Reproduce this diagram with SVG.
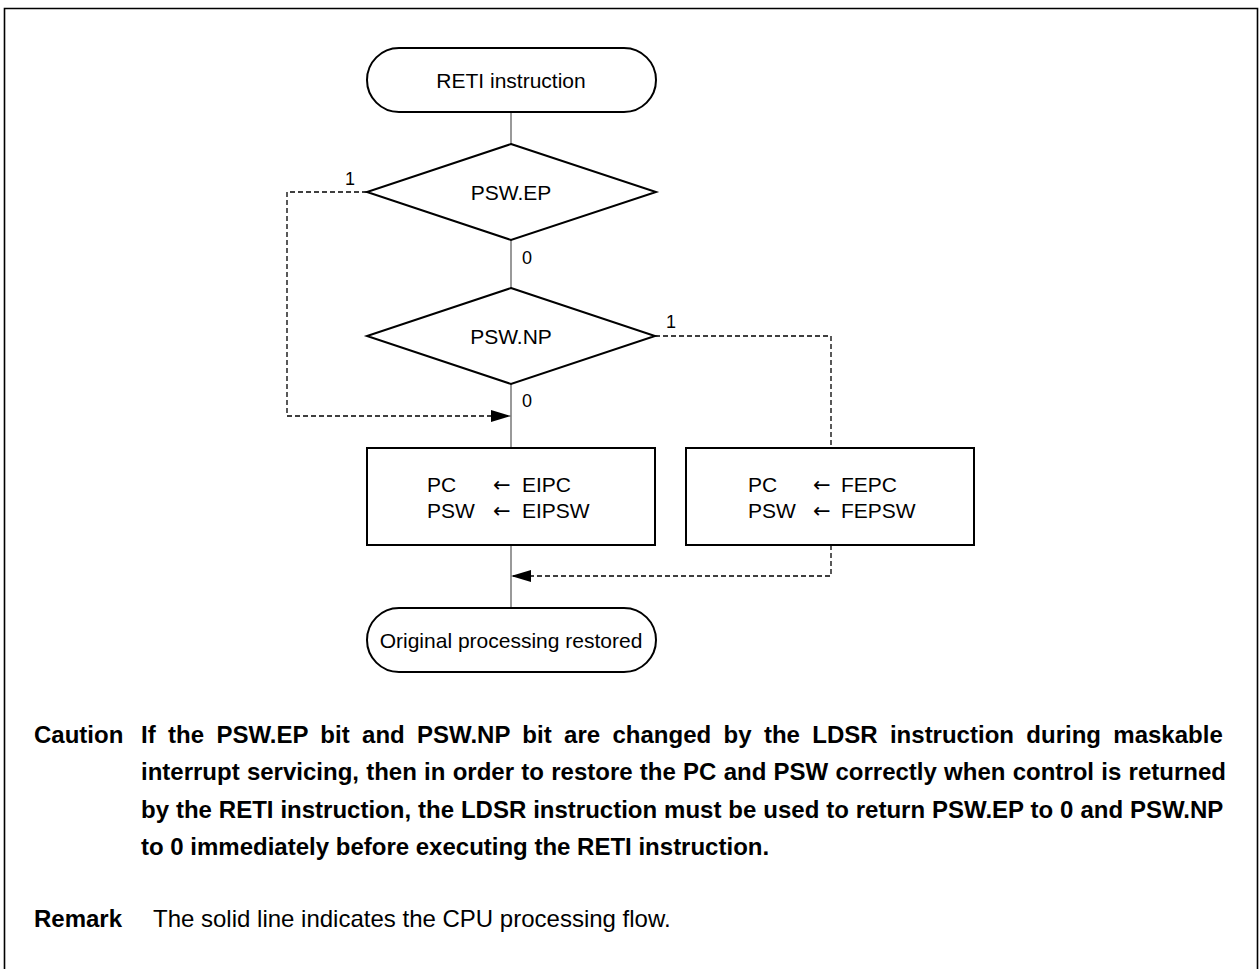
<svg xmlns="http://www.w3.org/2000/svg" width="1259" height="969" viewBox="0 0 1259 969">
<style>
.shape{fill:#fff;stroke:#000;stroke-width:2}
.flow{fill:none;stroke:#555;stroke-width:1.2}
.dash{fill:none;stroke:#000;stroke-width:1.3;stroke-dasharray:5 3}
.t{font-family:"Liberation Sans",Arial,sans-serif;font-size:21px;fill:#000}
.ar{font-family:"DejaVu Sans",sans-serif;font-size:21px;fill:#000}
.lbl{font-family:"Liberation Sans",Arial,sans-serif;font-size:18px;fill:#000}
.b{font-family:"Liberation Sans",Arial,sans-serif;font-size:24px;font-weight:bold;fill:#000}
.r{font-family:"Liberation Sans",Arial,sans-serif;font-size:24px;fill:#000}
</style>
<defs>
<marker id="ah" viewBox="0 0 20 12" refX="20" refY="6" markerWidth="20" markerHeight="12" markerUnits="userSpaceOnUse" orient="auto">
<path d="M0,0 L20,6 L0,12 Z" fill="#000"/>
</marker>
</defs>
<rect width="1259" height="969" fill="#fff"/>
<path d="M4.5,969 V8.5 H1257.5 V969" fill="none" stroke="#000" stroke-width="1.6"/>

<g id="connectors">
<line class="flow" x1="511" y1="112" x2="511" y2="144"/>
<line class="flow" x1="511" y1="240" x2="511" y2="288"/>
<line class="flow" x1="511" y1="384" x2="511" y2="448"/>
<line class="flow" x1="511" y1="545" x2="511" y2="608"/>
<polyline class="dash" points="367,192 287,192 287,416 511,416" marker-end="url(#ah)"/>
<polyline class="dash" points="655,336 831,336 831,448"/>
<polyline class="dash" points="831,545 831,576 511,576" marker-end="url(#ah)"/>
<text class="lbl" x="350" y="185" text-anchor="middle">1</text>
<text class="lbl" x="522" y="264">0</text>
<text class="lbl" x="666" y="328">1</text>
<text class="lbl" x="522" y="407">0</text>
</g>

<g id="start">
<rect class="shape" x="367" y="48" width="289" height="64" rx="32" ry="32"/>
<text class="t" x="511" y="88" text-anchor="middle">RETI instruction</text>
</g>

<g id="dec-ep">
<polygon class="shape" points="511,144 656,192 511,240 367,192"/>
<text class="t" x="511" y="200" text-anchor="middle">PSW.EP</text>
</g>

<g id="dec-np">
<polygon class="shape" points="511,288 655,336 511,384 367,336"/>
<text class="t" x="511" y="344" text-anchor="middle">PSW.NP</text>
</g>

<g id="box-ei">
<rect class="shape" x="367" y="448" width="288" height="97"/>
<text class="t" x="427" y="492">PC</text>
<text class="ar" x="493" y="492">←</text>
<text class="t" x="522" y="492">EIPC</text>
<text class="t" x="427" y="518">PSW</text>
<text class="ar" x="493" y="518">←</text>
<text class="t" x="522" y="518">EIPSW</text>
</g>

<g id="box-fe">
<rect class="shape" x="686" y="448" width="288" height="97"/>
<text class="t" x="748" y="492">PC</text>
<text class="ar" x="813" y="492">←</text>
<text class="t" x="841" y="492">FEPC</text>
<text class="t" x="748" y="518">PSW</text>
<text class="ar" x="813" y="518">←</text>
<text class="t" x="841" y="518">FEPSW</text>
</g>

<g id="end">
<rect class="shape" x="367" y="608" width="289" height="64" rx="32" ry="32"/>
<text class="t" x="511" y="648" text-anchor="middle">Original processing restored</text>
</g>

<g id="notes">
<text class="b" x="34" y="743">Caution</text>
<text class="b" x="141" y="743" word-spacing="5.7">If the PSW.EP bit and PSW.NP bit are changed by the LDSR instruction during maskable</text>
<text class="b" x="141" y="780" word-spacing="0.58">interrupt servicing, then in order to restore the PC and PSW correctly when control is returned</text>
<text class="b" x="141" y="818" word-spacing="0.25">by the RETI instruction, the LDSR instruction must be used to return PSW.EP to 0 and PSW.NP</text>
<text class="b" x="141" y="855">to 0 immediately before executing the RETI instruction.</text>
<text class="b" x="34" y="927">Remark</text>
<text class="r" x="153" y="927">The solid line indicates the CPU processing flow.</text>
</g>
</svg>
